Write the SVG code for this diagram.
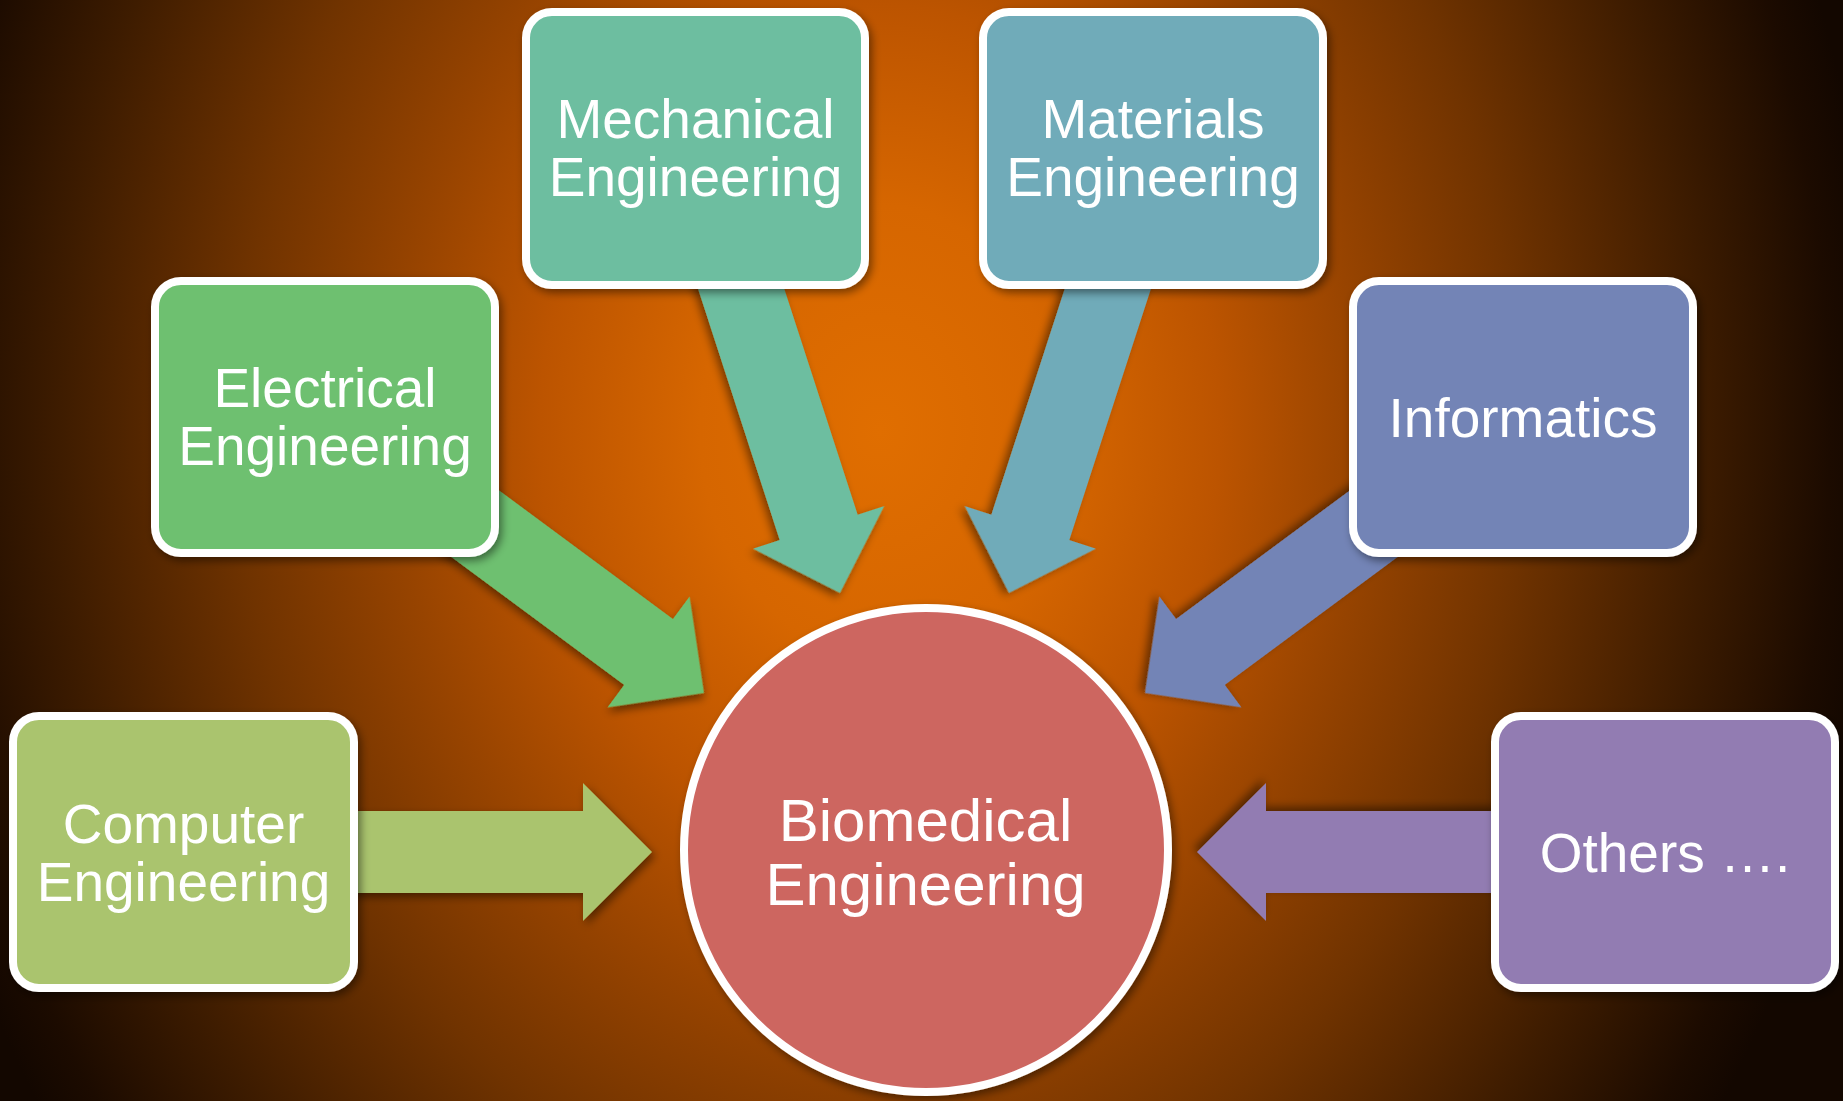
<svg xmlns="http://www.w3.org/2000/svg" width="1843" height="1101" viewBox="0 0 1843 1101">
  <defs>
    <radialGradient id="bg" gradientUnits="userSpaceOnUse" cx="880" cy="430" r="1000" gradientTransform="translate(880,430) scale(1,1.25) translate(-880,-430)">
      <stop offset="0" stop-color="#E06E00"/>
      <stop offset="0.18" stop-color="#D66600"/>
      <stop offset="0.34" stop-color="#BC5400"/>
      <stop offset="0.48" stop-color="#984400"/>
      <stop offset="0.64" stop-color="#703300"/>
      <stop offset="0.82" stop-color="#3E1C00"/>
      <stop offset="0.95" stop-color="#1C0B00"/>
      <stop offset="1" stop-color="#130700"/>
    </radialGradient>
    <filter id="shadow" x="-20%" y="-20%" width="140%" height="140%">
      <feDropShadow dx="3" dy="4" stdDeviation="4" flood-color="#000" flood-opacity="0.45"/>
    </filter>
  </defs>
  <style>
    .box { stroke: #FFFFFF; stroke-width: 8; filter: url(#shadow); }
    .arrow { stroke: none; filter: url(#shadow); }
    .lbl { font-family: "Liberation Sans", Arial, sans-serif; font-size: 55px; fill: #FFFFFF; text-anchor: middle; }
    .big { font-size: 60px; }
  </style>

  <rect x="0" y="0" width="1843" height="1101" fill="url(#bg)"/>

  <g id="connectors">
    <path class="arrow" fill="#AAC46E" transform="translate(652,852)" d="M0,0 L-69,-69 L-69,-41 L-302,-41 L-302,41 L-69,41 L-69,69 Z"/>
    <path class="arrow" fill="#927CB2" transform="translate(1197,852) rotate(180)" d="M0,0 L-69,-69 L-69,-41 L-302,-41 L-302,41 L-69,41 L-69,69 Z"/>
    <path class="arrow" fill="#6EC06F" transform="translate(704,693) rotate(36.5)" d="M0,0 L-69,-69 L-69,-41 L-320,-41 L-320,41 L-69,41 L-69,69 Z"/>
    <path class="arrow" fill="#7384B6" transform="translate(1145,693) rotate(143.5)" d="M0,0 L-69,-69 L-69,-41 L-320,-41 L-320,41 L-69,41 L-69,69 Z"/>
    <path class="arrow" fill="#6DBEA0" transform="translate(840,593) rotate(72)" d="M0,0 L-69,-69 L-69,-41 L-370,-41 L-370,41 L-69,41 L-69,69 Z"/>
    <path class="arrow" fill="#6FABB9" transform="translate(1009,593) rotate(108)" d="M0,0 L-69,-69 L-69,-41 L-370,-41 L-370,41 L-69,41 L-69,69 Z"/>
  </g>

  <g id="node-computer">
    <rect class="box" x="13" y="716" width="341" height="272" rx="26" fill="#AAC46E"/>
    <text class="lbl" x="183.5" y="843">Computer</text>
    <text class="lbl" x="183.5" y="901">Engineering</text>
  </g>
  <g id="node-electrical">
    <rect class="box" x="155" y="281" width="340" height="272" rx="26" fill="#6EC06F"/>
    <text class="lbl" x="325" y="407">Electrical</text>
    <text class="lbl" x="325" y="465">Engineering</text>
  </g>
  <g id="node-mechanical">
    <rect class="box" x="526" y="12" width="339" height="273" rx="26" fill="#6DBEA0"/>
    <text class="lbl" x="695.5" y="138">Mechanical</text>
    <text class="lbl" x="695.5" y="196">Engineering</text>
  </g>
  <g id="node-materials">
    <rect class="box" x="983" y="12" width="340" height="273" rx="26" fill="#6FABB9"/>
    <text class="lbl" x="1153" y="138">Materials</text>
    <text class="lbl" x="1153" y="196">Engineering</text>
  </g>
  <g id="node-informatics">
    <rect class="box" x="1353" y="281" width="340" height="272" rx="26" fill="#7384B6"/>
    <text class="lbl" x="1523" y="437">Informatics</text>
  </g>
  <g id="node-others">
    <rect class="box" x="1495" y="716" width="340" height="272" rx="26" fill="#927CB2"/>
    <text class="lbl" x="1665" y="872">Others ….</text>
  </g>
  <g id="node-biomedical">
    <circle class="box" cx="926" cy="850" r="242" fill="#CD6661"/>
    <text class="lbl big" x="925.5" y="841">Biomedical</text>
    <text class="lbl big" x="925.5" y="905">Engineering</text>
  </g>
</svg>
